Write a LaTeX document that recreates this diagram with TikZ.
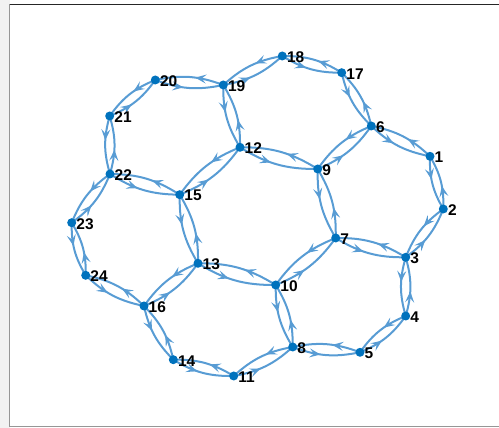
\documentclass[tikz,border=0pt]{standalone}
\usepackage{fontspec}
\setmainfont{Liberation Sans}
\usetikzlibrary{arrows.meta,decorations.markings,backgrounds}
\definecolor{nodeblue}{RGB}{0,114,189}
\definecolor{edgeblue}{RGB}{88,156,212}
\definecolor{framedark}{RGB}{38,38,38}
\definecolor{framegray}{RGB}{150,150,150}
\definecolor{sidegray}{RGB}{242,242,242}
\tikzset{
  vdot/.style={circle, fill=nodeblue, inner sep=0pt, minimum size=9pt},
  vlabel/.style={anchor=west, inner sep=0pt, font=\fontsize{15.5}{16}\selectfont\bfseries},
  dedge/.style={color=edgeblue, line width=2pt, postaction={decorate},
    decoration={markings, mark=at position 0.42 with {\arrow{Stealth[length=11pt,width=9pt,inset=4.5pt]}}}},
}
\begin{document}
\begin{tikzpicture}[x=1pt,y=1pt]
\useasboundingbox (0,0) rectangle (499,428);
\foreach \i/\x/\yy in {1/430/156.3, 2/443.3/209, 3/405.7/257.3, 4/405.7/316, 5/360/352.3,
  6/371.3/126, 7/335.7/238, 8/292.7/347, 9/317.7/169, 10/275.7/285, 11/233.7/376,
  12/240/147.3, 13/198/263.3, 14/173.3/359.7, 15/179.7/194.7, 16/144/306,
  17/341.7/72.7, 18/282.3/56, 19/223.3/85, 20/155.3/80, 21/109.7/116, 22/110/174,
  23/71.7/222.7, 24/85.7/275.3}{
  \node[vdot] (v\i) at (\x,428-\yy) {};
  \node[vlabel] (l\i) at (\x+4.5,427-\yy) {\i};
}
\begin{scope}[on background layer]
  \fill[sidegray] (0,0) rectangle (9.5,428);
  \draw[framegray, line width=1pt] (9.5,423.5) -- (9.5,1) -- (499,1);
  \draw[framedark, line width=1pt] (9.5,423.5) -- (499,423.5);
  \foreach \a/\b in {1/2, 2/3, 3/4, 4/5, 5/8, 8/10, 10/7, 7/3, 7/9, 9/6, 6/1, 6/17,
    17/18, 18/19, 19/12, 12/9, 12/15, 15/22, 22/21, 21/20, 20/19, 22/23, 23/24,
    24/16, 16/13, 13/15, 13/10, 16/14, 14/11, 11/8}{
    \draw[dedge] (v\a.center) to[bend right=16] (v\b.center);
    \draw[dedge] (v\b.center) to[bend right=16] (v\a.center);
  }
\end{scope}
\end{tikzpicture}
\end{document}
